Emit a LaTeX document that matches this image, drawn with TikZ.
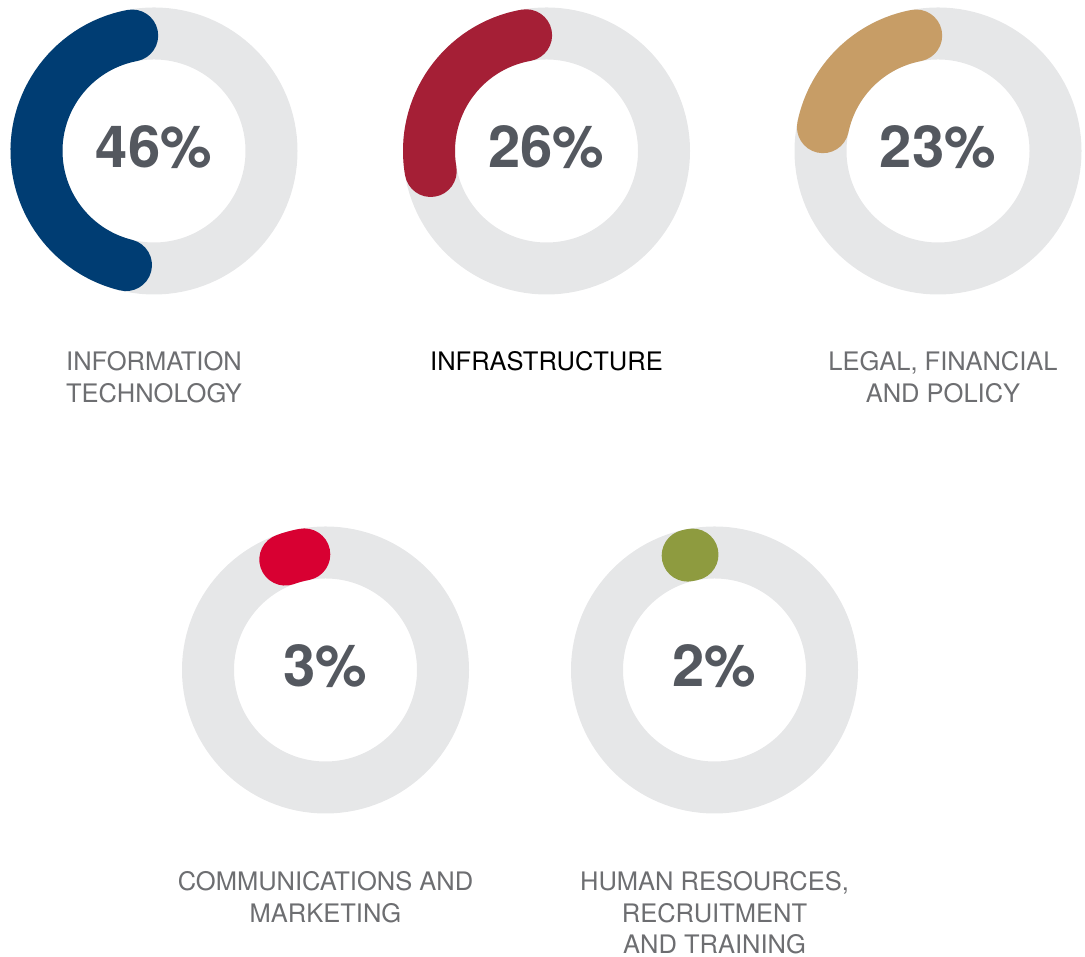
\documentclass[tikz,border=0pt]{standalone}
\usepackage{fontspec}
\setmainfont{TeX Gyre Heros}
\definecolor{ringgray}{HTML}{E6E7E8}
\definecolor{pctgray}{HTML}{54585F}
\definecolor{lblgray}{HTML}{6D6E71}
\definecolor{itblue}{HTML}{003D73}
\definecolor{infrared}{HTML}{A51F36}
\definecolor{legalgold}{HTML}{C79D66}
\definecolor{commred}{HTML}{D80032}
\definecolor{hrolive}{HTML}{8E9B3F}
\begin{document}
\begin{tikzpicture}[x=1pt, y=1pt,
        ring/.style={draw=ringgray, line width=52pt},
        share/.style={line width=52pt, line cap=round},
        pct/.style={anchor=base, inner sep=0pt, text=pctgray, font=\fontsize{58}{60}\selectfont\bfseries},
        lbl/.style={anchor=north, inner sep=0pt, align=center, text=lblgray, font=\fontsize{25.5}{31.6}\selectfont}]
    \useasboundingbox (0,0) rectangle (1085,957);
    \foreach \cx/\cy/\a/\b/\col/\p in {154/806/100.7/256.2/itblue/46, 546.5/806/100/189.8/infrared/26,
            938/806/100.7/168.3/legalgold/23, 325.5/287/100.4/110/commred/3, 714.5/287/100.8/103.2/hrolive/2} {
        \draw[ring] (\cx,\cy) circle[radius=117.5];
        \draw[share, draw=\col] (\cx,\cy) ++(\a:117.5) arc[start angle=\a, end angle=\b, radius=117.5];
        \node[pct] (pct\p) at (\cx,\cy-16.5) {\p\%};
    }
    \node[lbl] (itlbl) at (154,605.5) {INFORMATION\\TECHNOLOGY};
    \node[lbl, text=black] (infralbl) at (546.5,605.5) {INFRASTRUCTURE};
    \node[lbl] (legallbl) at (943,605.5) {LEGAL, FINANCIAL\\AND POLICY};
    \node[lbl] (commlbl) at (325.5,85.5) {COMMUNICATIONS AND\\MARKETING};
    \node[lbl] (hrlbl) at (714.5,85.5) {HUMAN RESOURCES,\\RECRUITMENT\\AND TRAINING};
\end{tikzpicture}
\end{document}
